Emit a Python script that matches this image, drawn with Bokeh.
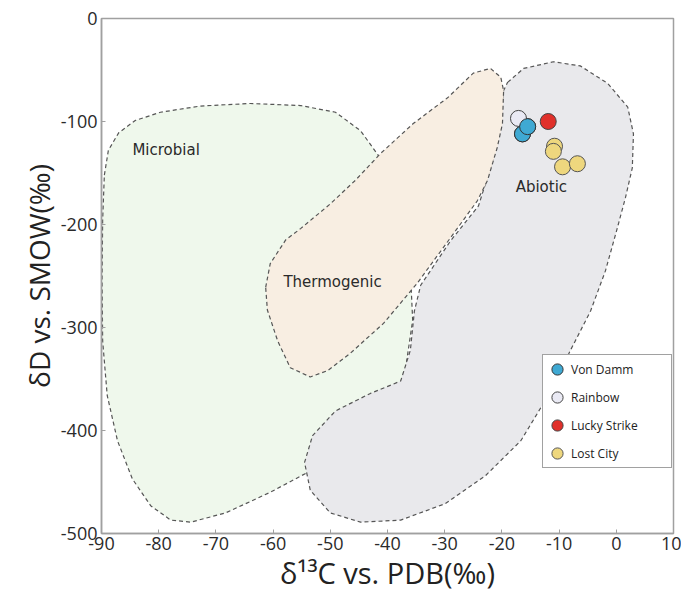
from bokeh.plotting import figure
from bokeh.models import Legend, LegendItem, FixedTicker, Label
from bokeh.embed import file_html
from bokeh.resources import INLINE

# ---- region outlines (data units: d13C, dD) ----
microbial_x = [-89.5, -88.8, -87.0, -84.1, -79.7, -72.7, -64.0, -55.2, -49.1, -44.7, -41.6, -39.1, -37.2,
               -36.0, -35.6, -36.9, -39.8, -44.7, -51.7, -60.5, -68.3, -74.4, -77.9, -81.4, -84.6, -87.2,
               -89.0, -89.8, -89.9, -89.8]
microbial_y = [-152, -128, -111, -99, -91, -85, -82.5, -84.5, -91, -109, -133, -162, -201,
               -245, -293, -342, -381, -410, -434, -460, -480, -489, -487, -473, -447, -410,
               -366, -313, -254, -196]

thermo_x = [-61.3, -60.5, -57.8, -55.2, -50.0, -45.6, -41.2, -35.5, -29.5, -25.0, -22.0, -20.2, -19.7,
            -19.9, -20.8, -22.5, -24.3, -29.0, -34.8, -40.7, -46.5, -50.5, -53.5, -57.0, -59.2, -61.0]
thermo_y = [-261, -238, -215, -204, -180, -157, -131, -102, -77, -53, -48.5, -57, -70,
            -102, -125, -157, -177, -213, -257, -296, -325, -342, -348, -339, -313, -283]

abiotic_x = [-19.0, -16.2, -11.0, -6.3, -1.5, 2.0, 3.0, 2.8, 1.6, 0.2, -1.9, -4.5, -8.0, -11.9, -16.7,
             -22.9, -29.9, -37.7, -44.7, -50.0, -53.5, -54.5, -53.1, -49.1, -43.0, -37.7, -36.0, -35.3,
             -34.2, -29.0, -24.1, -21.6, -20.2, -19.7]
abiotic_y = [-62, -48.5, -42, -46, -63, -86, -112, -145, -174, -203, -245, -284, -322, -366, -410,
             -444, -471, -487, -489, -480, -458, -431, -405, -381, -364, -352, -322, -284,
             -259, -216, -182, -138, -99, -70]

# ---- samples ----
von_damm_x = [-16.4, -15.5]
von_damm_y = [-112, -105]
rainbow_x = [-17.1]
rainbow_y = [-97]
lucky_x = [-11.9]
lucky_y = [-100]
lost_city_x = [-10.8, -11.0, -9.4, -6.8]
lost_city_y = [-124, -129, -144, -141]

x_ticks = [-90, -80, -70, -60, -50, -40, -30, -20, -10, 0, 10]
x_tick_labels = ["-90", "-80", "-70", "-60", "-50", "-40", "-30", "-20", "-10", "0", "10"]
y_ticks = [0, -100, -200, -300, -400, -500]
y_tick_labels = ["0", "-100", "-200", "-300", "-400", "-500"]

p = figure(width=681, height=596, x_range=(-90, 10), y_range=(-500, 0),
           output_backend="svg", toolbar_location=None,
           min_border_left=101, min_border_top=18, min_border_right=8, min_border_bottom=63)
p.frame_width = 572
p.frame_height = 515
p.grid.visible = False
p.background_fill_color = "white"
p.outline_line_color = "#a0a0a0"
p.outline_line_width = 1.5

for ax in (p.xaxis[0], p.yaxis[0]):
    ax.axis_line_color = "#a0a0a0"
    ax.axis_line_width = 1.5
    ax.major_tick_in = 4
    ax.major_tick_out = 0
    ax.minor_tick_line_color = None
    ax.major_tick_line_color = "#a0a0a0"
    ax.major_label_text_font = "Open Sans"
    ax.major_label_text_font_size = "18px"
    ax.major_label_text_color = "#2a2a2a"
    ax.axis_label_text_font = "Open Sans"
    ax.axis_label_text_font_style = "normal"
    ax.axis_label_text_color = "#222222"

p.xaxis.ticker = FixedTicker(ticks=x_ticks)
p.yaxis.ticker = FixedTicker(ticks=y_ticks)
p.xaxis.major_label_overrides = dict(zip(x_ticks, x_tick_labels))
p.yaxis.major_label_overrides = dict(zip(y_ticks, y_tick_labels))
p.xaxis.major_label_standoff = 3
p.yaxis.major_label_standoff = 4
p.xaxis.axis_label = "δ¹³C vs. PDB(‰)"
p.yaxis.axis_label = "δD vs. SMOW(‰)"
p.xaxis.axis_label_text_font_size = "29px"
p.yaxis.axis_label_text_font_size = "28px"
p.xaxis.axis_label_standoff = 0
p.yaxis.axis_label_standoff = 0

dash = "4 3"
p.patch(microbial_x, microbial_y, fill_color="#eff8ec", line_color="#555555", line_dash=dash, line_width=1.2)
p.patch(abiotic_x, abiotic_y, fill_color="#e9e9ec", line_color="#555555", line_dash=dash, line_width=1.2)
p.patch(thermo_x, thermo_y, fill_color="#f8eee2", line_color="#555555", line_dash=dash, line_width=1.2)

for txt, x, y in [("Microbial", -84.6, -128), ("Thermogenic", -58.2, -256), ("Abiotic", -17.6, -164)]:
    p.add_layout(Label(x=x, y=y, text=txt, text_font="DejaVu Sans", text_font_size="15px",
                       text_color="#2a2a2a", text_baseline="middle", text_align="left"))

r_vd = p.scatter(von_damm_x, von_damm_y, size=16, fill_color="#3fa9d3", line_color="#333333", line_width=1)
r_rb = p.scatter(rainbow_x, rainbow_y, size=16, fill_color="#eaeaf4", line_color="#444444", line_width=1)
r_ls = p.scatter(lucky_x, lucky_y, size=16, fill_color="#e0302a", line_color="#444444", line_width=1)
r_lc = p.scatter(lost_city_x, lost_city_y, size=16, fill_color="#eed77e", line_color="#555555", line_width=1)
# redraw von damm on top of rainbow
r_vd2 = p.scatter(von_damm_x, von_damm_y, size=16, fill_color="#3fa9d3", line_color="#333333", line_width=1)

legend = Legend(items=[LegendItem(label="Von Damm", renderers=[r_vd]),
                       LegendItem(label="Rainbow", renderers=[r_rb]),
                       LegendItem(label="Lucky Strike", renderers=[r_ls]),
                       LegendItem(label="Lost City", renderers=[r_lc])],
                location=(441, 65), orientation="vertical",
                border_line_color="#444444", border_line_width=1,
                background_fill_color="white", background_fill_alpha=1,
                label_text_font="Open Sans", label_text_font_size="12px", label_text_color="#222222",
                glyph_height=28, glyph_width=28, label_height=28, label_width=100, spacing=0, padding=0,
                label_standoff=-3, margin=0)
p.add_layout(legend, "center")

open("out.html", "w").write(file_html(p, INLINE))
